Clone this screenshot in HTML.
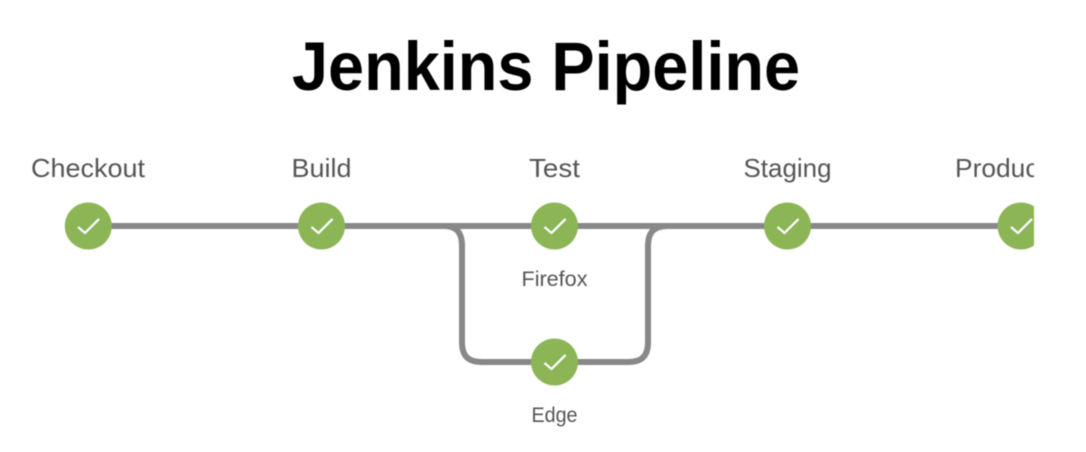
<!DOCTYPE html>
<html>
<head>
<meta charset="utf-8">
<style>
html,body{margin:0;padding:0;background:#fff;width:1086px;height:452px;overflow:hidden}
svg{display:block}
.t{font-family:"Liberation Sans",sans-serif;fill:#555;text-anchor:middle}
</style>
</head>
<body>
<svg width="1086" height="452" viewBox="0 0 1086 452" xmlns="http://www.w3.org/2000/svg">
<defs>
<clipPath id="c"><rect x="0" y="140" width="1034" height="312"/></clipPath>
<filter id="b" x="-5%" y="-5%" width="110%" height="110%"><feGaussianBlur stdDeviation="0.45"/></filter>
</defs>
<g filter="url(#b)">
<text x="546" y="90" text-anchor="middle" font-family="'Liberation Sans',sans-serif" font-weight="bold" font-size="69" fill="#000" textLength="508" lengthAdjust="spacingAndGlyphs">Jenkins Pipeline</text>
<g clip-path="url(#c)">
<g fill="none" stroke="#888" stroke-width="6">
<path d="M88 226H1021"/>
<path d="M444 226C456 226 462 232 462 246V342C462 356 468 362 482 362H628C642 362 648 356 648 342V246C648 232 654 226 668 226"/>
</g>
<g fill="#8cb556">
<circle cx="88.300" cy="226" r="23.500"/>
<circle cx="321.500" cy="226" r="23.500"/>
<circle cx="554.500" cy="226" r="23.500"/>
<circle cx="787.500" cy="226" r="23.500"/>
<circle cx="1021" cy="226" r="23.500"/>
<circle cx="554.500" cy="362" r="23.500"/>
</g>
<g fill="none" stroke="#fff" stroke-width="2">
<path d="M78 227L85 233L99 219"/>
<path d="M311.500 227L318.500 233L332.500 219"/>
<path d="M544.500 227L551.500 233L565.500 219"/>
<path d="M777.500 227L784.500 233L798.500 219"/>
<path d="M1011 227L1018 233L1032 219"/>
<path d="M544.500 363L551.500 369L565.500 355"/>
</g>
<text class="t" x="88" y="177" font-size="26" textLength="114" lengthAdjust="spacingAndGlyphs">Checkout</text>
<text class="t" x="321.500" y="177" font-size="26" textLength="60" lengthAdjust="spacingAndGlyphs">Build</text>
<text class="t" x="554.500" y="177" font-size="26" textLength="51" lengthAdjust="spacingAndGlyphs">Test</text>
<text class="t" x="787.500" y="177" font-size="26" textLength="88" lengthAdjust="spacingAndGlyphs">Staging</text>
<text x="955" y="177" font-family="'Liberation Sans',sans-serif" fill="#555" font-size="26" textLength="126" lengthAdjust="spacingAndGlyphs">Production</text>
<text class="t" x="554.500" y="286" font-size="21" textLength="66" lengthAdjust="spacingAndGlyphs">Firefox</text>
<text class="t" x="554.500" y="422" font-size="21" textLength="46" lengthAdjust="spacingAndGlyphs">Edge</text>
</g>
</g>
</svg>
</body>
</html>
